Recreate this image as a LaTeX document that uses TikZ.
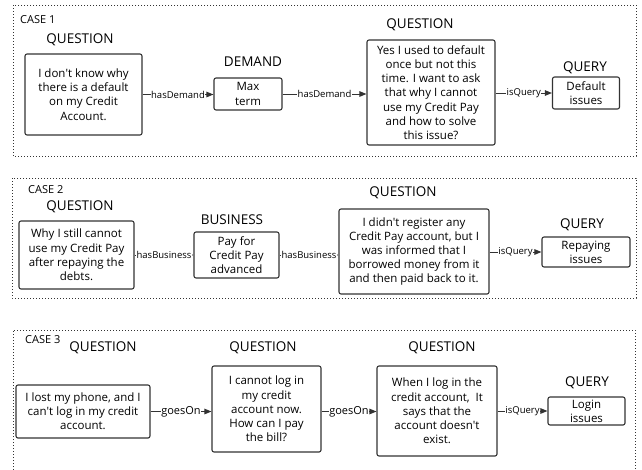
\documentclass[tikz,border=0pt]{standalone}
\usepackage{fontspec}
\setmainfont{Open Sans}
\usetikzlibrary{arrows.meta}
\definecolor{ln}{HTML}{333333}
\newcommand{\ap}{\textquotesingle}
\tikzset{
  qbox/.style={draw=ln, line width=1.1pt, rounded corners=2pt, align=center, inner sep=0pt,
     font=\fontsize{11.5}{14.2}\selectfont},
  ttl/.style={font=\fontsize{13.5}{16}\selectfont, inner sep=0pt},
  casettl/.style={font=\fontsize{11}{13}\selectfont, inner sep=0pt, anchor=west},
  frame/.style={draw=ln, line width=1pt, dotted},
  conn/.style={draw=ln, line width=1pt, -{Triangle[length=7pt,width=5.5pt]}},
  elab/.style={fill=white, inner sep=0.5pt, font=\fontsize{9.5}{11}\selectfont},
  elabb/.style={fill=white, inner sep=0.5pt, font=\fontsize{11}{13}\selectfont},
}
\begin{document}
\begin{tikzpicture}[x=1pt,y=-1pt]
\useasboundingbox (0,0) rectangle (642,469);
% frames
\draw[frame] (13,5) rectangle (636,156);
\draw[frame] (12,178) rectangle (636,298);
\draw[frame] (13,470) |- (635,330) -- (635,470);
% CASE 1
\node[casettl] (c1) at (20,20) {CASE 1};
\node[ttl] (t1) at (80,40) {QUESTION};
\node[ttl] (t2) at (253,62) {DEMAND};
\node[ttl] (t3) at (420,25) {QUESTION};
\node[ttl] (t4) at (585,68) {QUERY};
\node[qbox, minimum width=117pt, minimum height=81pt] (q1) at (83.5,94.5)
  {I don\ap t know why\\there is a default\\on my Credit\\Account.};
\node[qbox, minimum width=68pt, minimum height=32pt] (d1) at (248,94) {Max\\term};
\node[qbox, minimum width=128pt, minimum height=105pt] (q2) at (431,92.5)
  {Yes I used to default\\once but not this\\time. I want to ask\\that why I cannot\\use my Credit Pay\\and how to solve\\this issue?};
\node[qbox, minimum width=67pt, minimum height=32pt] (qy1) at (586,93) {Default\\issues};
\draw[conn] (q1.east) -- node[elab]{hasDemand} (q1.east -| d1.west);
\draw[conn] (d1.east) -- node[elab]{hasDemand} (d1.east -| q2.west);
\draw[conn] (q2.east |- qy1.west) -- node[elab]{isQuery} (qy1.west);
% CASE 2
\node[casettl] (c2) at (28,190) {CASE 2};
\node[ttl] (t5) at (80,207) {QUESTION};
\node[ttl] (t6) at (232,220) {BUSINESS};
\node[ttl] (t7) at (403,193) {QUESTION};
\node[ttl] (t8) at (582,225) {QUERY};
\node[qbox, minimum width=115pt, minimum height=68pt] (q3) at (76.5,255)
  {Why I still cannot\\use my Credit Pay\\after repaying the\\debts.};
\node[qbox, minimum width=85pt, minimum height=46pt] (b1) at (236.5,255)
  {Pay for\\Credit Pay\\advanced};
\node[qbox, minimum width=150pt, minimum height=85pt] (q4) at (414,251.5)
  {I didn\ap t register any\\Credit Pay account, but I\\was informed that I\\borrowed money from it\\and then paid back to it.};
\node[qbox, minimum width=88pt, minimum height=30pt] (qy2) at (586,252) {Repaying\\issues};
\draw[conn] (q3.east) -- node[elab]{hasBusiness} (q3.east -| b1.west);
\draw[conn] (b1.east) -- node[elab]{hasBusiness} (b1.east -| q4.west);
\draw[conn] (q4.east |- qy2.west) -- node[elab]{isQuery} (qy2.west);
% CASE 3
\node[casettl] (c3) at (25,340) {CASE 3};
\node[ttl] (t9) at (103,348) {QUESTION};
\node[ttl] (t10) at (263,348) {QUESTION};
\node[ttl] (t11) at (442,348) {QUESTION};
\node[ttl] (t12) at (587,383) {QUERY};
\node[qbox, minimum width=134pt, minimum height=53pt] (q5) at (83,411.5)
  {I lost my phone, and I\\can\ap t log in my credit\\account.};
\node[qbox, minimum width=109pt, minimum height=86pt] (q6) at (266.5,409)
  {I cannot log in\\my credit\\account now.\\How can I pay\\the bill?};
\node[qbox, minimum width=120pt, minimum height=90pt] (q7) at (437,411)
  {When I log in the\\credit account,~ It\\says that the\\account doesn\ap t\\exist.};
\node[qbox, minimum width=77pt, minimum height=28pt] (qy3) at (586.5,411) {Login\\issues};
\draw[conn] (q5.east) -- node[elabb]{goesOn} (q5.east -| q6.west);
\draw[conn] (q5.east -| q6.east) -- node[elabb]{goesOn} (q5.east -| q7.west);
\draw[conn] (q7.east |- qy3.west) -- node[elab]{isQuery} (qy3.west);
\end{tikzpicture}
\end{document}
